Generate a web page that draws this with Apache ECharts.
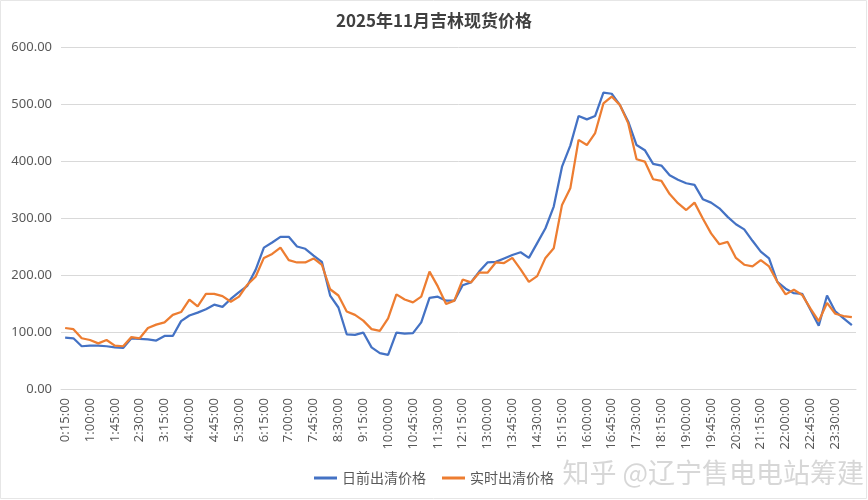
<!DOCTYPE html>
<html>
<head>
<meta charset="utf-8">
<script src="https://cdn.jsdelivr.net/npm/echarts@6/dist/echarts.min.js"></script>
<style>
html,body{margin:0;padding:0;background:#fff;}
#chart{width:868px;height:500px;}
</style>
</head>
<body>
<div id="chart"></div>
<script>
var titleText = '2025年11月吉林现货价格';
var seriesNames = ['日前出清价格', '实时出清价格'];
var categories = [
'0:15:00','0:30:00','0:45:00','1:00:00','1:15:00','1:30:00','1:45:00','2:00:00',
'2:15:00','2:30:00','2:45:00','3:00:00','3:15:00','3:30:00','3:45:00','4:00:00',
'4:15:00','4:30:00','4:45:00','5:00:00','5:15:00','5:30:00','5:45:00','6:00:00',
'6:15:00','6:30:00','6:45:00','7:00:00','7:15:00','7:30:00','7:45:00','8:00:00',
'8:15:00','8:30:00','8:45:00','9:00:00','9:15:00','9:30:00','9:45:00','10:00:00',
'10:15:00','10:30:00','10:45:00','11:00:00','11:15:00','11:30:00','11:45:00','12:00:00',
'12:15:00','12:30:00','12:45:00','13:00:00','13:15:00','13:30:00','13:45:00','14:00:00',
'14:15:00','14:30:00','14:45:00','15:00:00','15:15:00','15:30:00','15:45:00','16:00:00',
'16:15:00','16:30:00','16:45:00','17:00:00','17:15:00','17:30:00','17:45:00','18:00:00',
'18:15:00','18:30:00','18:45:00','19:00:00','19:15:00','19:30:00','19:45:00','20:00:00',
'20:15:00','20:30:00','20:45:00','21:00:00','21:15:00','21:30:00','21:45:00','22:00:00',
'22:15:00','22:30:00','22:45:00','23:00:00','23:15:00','23:30:00','23:45:00','24:00:00'
];
var dayAhead = [
90,89,75,76,76,75,73,72,89,88,87,85,93,93,119,129,
134,140,148,144,158,170,181,209,248,257,267,267,250,246,234,223,
164,143,96,95,99,73,63,60,99,97,98,117,160,162,155,155,
182,187,206,222,223,229,235,240,230,256,282,320,390,427,479,473,
479,520,518,498,469,428,419,395,392,375,367,361,358,333,327,317,
302,289,280,260,241,229,188,176,168,167,139,111,164,136,124,112
];
var realTime = [
107,105,89,86,80,86,76,75,91,89,107,113,117,130,135,157,
145,167,167,163,153,162,183,197,230,237,248,226,222,222,229,218,
175,164,136,130,120,105,102,124,166,157,152,162,206,180,149,155,
192,187,204,204,222,221,230,210,188,198,230,247,323,352,437,428,
449,501,513,498,466,403,399,368,365,342,326,314,327,299,273,254,
258,230,218,215,226,215,188,166,174,165,141,119,151,132,128,126
];
var yMin = 0, yMax = 600, yStep = 100;
var watermark = '知乎 @辽宁售电电站筹建';

var chart = echarts.init(document.getElementById('chart'), null, {renderer:'canvas'});
var labelColor = '#595959';
chart.setOption({
  backgroundColor: '#ffffff',
  animation: false,
  title: {
    text: titleText, left: 'center', top: 7,
    textStyle: {fontFamily: 'Noto Sans CJK SC', fontSize: 17, fontWeight: 'bold', color: '#404040'}
  },
  legend: {
    bottom: 10, left: 'center',
    icon: 'rect', itemWidth: 23, itemHeight: 3, itemGap: 16,
    textStyle: {fontFamily: 'Noto Sans CJK SC', fontSize: 14, color: labelColor},
    data: seriesNames
  },
  grid: {left: 61, right: 12, top: 47, bottom: 111, containLabel: false},
  xAxis: {
    type: 'category', data: categories, boundaryGap: true,
    axisLine: {lineStyle: {color: '#d9d9d9', width: 1}},
    axisTick: {show: false},
    axisLabel: {interval: 2, rotate: 90, color: labelColor, fontFamily: 'Noto Sans', fontSize: 13, margin: 9}
  },
  yAxis: {
    type: 'value', min: yMin, max: yMax, interval: yStep,
    axisLine: {show: false}, axisTick: {show: false},
    splitLine: {lineStyle: {color: '#d9d9d9', width: 1}},
    axisLabel: {color: labelColor, fontFamily: 'Noto Sans', fontSize: 13, margin: 9,
      formatter: function(v){ return v.toFixed(2); }}
  },
  series: [
    {name: seriesNames[0], type: 'line', data: dayAhead, showSymbol: false, symbol: 'none',
     lineStyle: {color: '#4472C4', width: 2.25}, itemStyle: {color: '#4472C4'}},
    {name: seriesNames[1], type: 'line', data: realTime, showSymbol: false, symbol: 'none',
     lineStyle: {color: '#ED7D31', width: 2.25}, itemStyle: {color: '#ED7D31'}}
  ],
  graphic: [
    {type: 'rect', shape: {x: 0.5, y: 0.5, width: 866, height: 498}, style: {fill: 'none', stroke: '#e6e6e6', lineWidth: 1}, silent: true},
    {type: 'text', right: 4, bottom: 14, style: {text: watermark, fill: 'rgba(175,175,175,0.5)', font: '27px "Noto Sans CJK SC"'}, silent: true, z: 100}
  ]
});
</script>
</body>
</html>
